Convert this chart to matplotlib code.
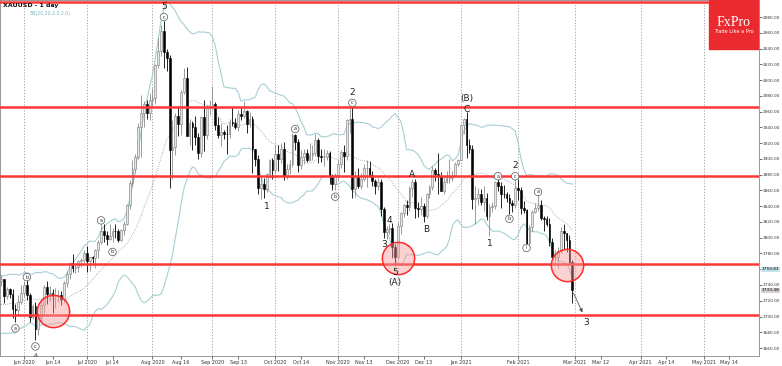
import numpy as np
import pandas as pd
import matplotlib
matplotlib.use("Agg")
import matplotlib.pyplot as plt
from matplotlib.patches import Rectangle

# --- daily XAUUSD candles, 20 May 2020 .. 26 Feb 2021 ---
pre_closes = [1714, 1730, 1729, 1713, 1706, 1713, 1686, 1700, 1702, 1705,
              1686, 1725, 1702, 1697, 1701, 1715, 1731, 1743, 1732, 1745]

opens = [
    1745, 1747, 1726, 1735, 1729, 1710, 1708, 1719,
    1730, 1740, 1727, 1700, 1713, 1684, 1698, 1715, 1737, 1728, 1730, 1726, 1727, 1727, 1722, 1743, 1754, 1768, 1761, 1763, 1771, 1772,
    1781, 1770, 1775, 1774, 1784, 1795, 1809, 1803, 1798, 1802, 1809, 1808, 1797, 1810, 1818, 1842, 1870, 1887, 1902, 1941, 1958, 1970, 1958,
    1975, 1977, 2019, 2037, 2062, 2035, 2028, 1911, 1915, 1954, 1944, 1985, 2002, 1929, 1946, 1940, 1928, 1907, 1953, 1930, 1964,
    1967, 1970, 1943, 1930, 1934, 1932, 1931, 1947, 1946, 1941, 1957, 1955, 1961, 1944, 1950, 1912, 1900, 1863, 1868, 1862, 1881, 1898,
    1886, 1906, 1900, 1913, 1878, 1887, 1893, 1930, 1922, 1892, 1902, 1908, 1899, 1905, 1907, 1924, 1904, 1902, 1902, 1908, 1878, 1868,
    1879, 1894, 1909, 1904, 1949, 1951, 1862, 1877, 1866, 1874, 1888, 1888, 1879, 1872, 1866, 1871, 1837, 1807, 1811, 1812, 1788,
    1776, 1815, 1831, 1841, 1839, 1863, 1871, 1838, 1836, 1840, 1827, 1855, 1864, 1886, 1881, 1878, 1859, 1871, 1876, 1876, 1878, 1894,
    1898, 1943, 1950, 1918, 1913, 1849, 1850, 1856, 1845, 1851, 1828, 1839, 1840, 1871, 1866, 1856, 1855, 1850, 1844, 1842,
    1863, 1860, 1838, 1835, 1793, 1813, 1833, 1838, 1842, 1825, 1824, 1818, 1795, 1775, 1775, 1783, 1808, 1806, 1797, 1769,
]
highs = [
    1753, 1748, 1737, 1736, 1735, 1716, 1727, 1740,
    1745, 1746, 1730, 1716, 1718, 1699, 1722, 1740, 1745, 1739, 1735, 1736, 1734, 1732, 1745, 1758, 1769, 1779, 1768, 1772, 1774, 1785,
    1789, 1776, 1777, 1786, 1797, 1818, 1818, 1808, 1818, 1812, 1817, 1811, 1811, 1821, 1843, 1873, 1898, 1906, 1945, 1981, 1973, 1975, 1984,
    1990, 2020, 2055, 2070, 2075, 2040, 2032, 1949, 1958, 1967, 1988, 2015, 2016, 1950, 1948, 1955, 1933, 1955, 1975, 1969, 1975,
    1992, 1972, 1953, 1945, 1937, 1943, 1951, 1966, 1952, 1962, 1966, 1973, 1962, 1960, 1955, 1913, 1905, 1880, 1876, 1882, 1900, 1901,
    1917, 1918, 1920, 1921, 1894, 1898, 1933, 1932, 1925, 1911, 1913, 1912, 1920, 1917, 1931, 1926, 1913, 1912, 1911, 1910, 1881, 1882,
    1898, 1911, 1917, 1951, 1966, 1966, 1884, 1889, 1882, 1893, 1899, 1897, 1884, 1874, 1876, 1875, 1839, 1815, 1817, 1819, 1792,
    1820, 1832, 1843, 1848, 1865, 1875, 1875, 1845, 1852, 1844, 1857, 1867, 1891, 1889, 1907, 1883, 1878, 1884, 1900, 1885, 1896, 1900,
    1944, 1952, 1959, 1925, 1917, 1865, 1863, 1862, 1865, 1857, 1843, 1845, 1872, 1875, 1871, 1867, 1858, 1856, 1848, 1875,
    1875, 1864, 1846, 1837, 1816, 1835, 1844, 1855, 1848, 1828, 1828, 1825, 1799, 1785, 1788, 1813, 1817, 1806, 1804, 1772,
]
lows = [
    1739, 1717, 1722, 1724, 1698, 1693, 1703, 1716,
    1725, 1721, 1693, 1697, 1670, 1676, 1693, 1704, 1716, 1720, 1705, 1711, 1719, 1714, 1719, 1737, 1748, 1757, 1755, 1757, 1763, 1768,
    1757, 1758, 1768, 1762, 1774, 1792, 1795, 1791, 1797, 1795, 1800, 1795, 1796, 1803, 1816, 1836, 1866, 1882, 1900, 1903, 1940, 1950, 1949,
    1966, 1970, 2015, 2031, 2015, 2012, 1863, 1874, 1905, 1929, 1930, 1982, 1929, 1917, 1911, 1917, 1900, 1902, 1910, 1925, 1956,
    1963, 1937, 1926, 1916, 1925, 1906, 1926, 1942, 1938, 1935, 1949, 1952, 1933, 1941, 1882, 1891, 1855, 1849, 1851, 1858, 1876, 1874,
    1882, 1884, 1895, 1873, 1874, 1881, 1890, 1911, 1883, 1887, 1893, 1896, 1897, 1899, 1904, 1895, 1896, 1891, 1899, 1868, 1860, 1860,
    1872, 1888, 1883, 1898, 1933, 1850, 1852, 1863, 1862, 1872, 1864, 1877, 1866, 1856, 1861, 1828, 1800, 1798, 1805, 1774, 1764,
    1774, 1805, 1826, 1829, 1834, 1852, 1825, 1826, 1829, 1820, 1825, 1851, 1860, 1872, 1856, 1859, 1855, 1869, 1870, 1872, 1877, 1891,
    1898, 1931, 1901, 1907, 1836, 1817, 1842, 1841, 1834, 1822, 1802, 1833, 1837, 1859, 1838, 1850, 1845, 1830, 1832, 1838,
    1848, 1830, 1831, 1785, 1791, 1807, 1831, 1834, 1822, 1808, 1815, 1789, 1774, 1768, 1761, 1780, 1786, 1782, 1767, 1717,
]
closes = [
    1747, 1726, 1735, 1729, 1710, 1708, 1719, 1730,
    1740, 1727, 1700, 1713, 1684, 1698, 1715, 1737, 1728, 1730, 1726, 1727, 1727, 1722, 1743, 1754, 1768, 1761, 1763, 1771, 1772, 1781,
    1770, 1775, 1774, 1784, 1795, 1809, 1803, 1798, 1802, 1809, 1808, 1797, 1810, 1818, 1842, 1870, 1887, 1902, 1941, 1958, 1970, 1958, 1975,
    1977, 2019, 2037, 2062, 2035, 2028, 1911, 1915, 1954, 1944, 1985, 2002, 1929, 1946, 1940, 1928, 1907, 1953, 1930, 1964, 1967,
    1970, 1943, 1930, 1934, 1932, 1931, 1947, 1946, 1941, 1957, 1955, 1961, 1944, 1950, 1912, 1900, 1863, 1868, 1862, 1881, 1898, 1886,
    1906, 1900, 1913, 1878, 1887, 1893, 1930, 1922, 1892, 1902, 1908, 1899, 1905, 1907, 1924, 1904, 1902, 1902, 1908, 1878, 1868, 1879,
    1894, 1909, 1904, 1949, 1951, 1862, 1877, 1866, 1874, 1888, 1888, 1879, 1872, 1866, 1871, 1837, 1807, 1811, 1812, 1788, 1776,
    1815, 1831, 1841, 1839, 1863, 1871, 1838, 1836, 1840, 1827, 1855, 1864, 1886, 1881, 1878, 1859, 1871, 1876, 1876, 1878, 1894, 1898,
    1943, 1950, 1918, 1913, 1849, 1850, 1856, 1845, 1851, 1828, 1839, 1840, 1871, 1866, 1856, 1855, 1850, 1844, 1842, 1863,
    1860, 1838, 1835, 1793, 1813, 1833, 1838, 1842, 1825, 1824, 1818, 1795, 1775, 1775, 1783, 1808, 1806, 1797, 1769, 1734,
]

# horizontal support / resistance levels
levels = [2099, 1966, 1878, 1766, 1702]
# highlighted zones (date, price)
circle_dates = ["2020-06-15", "2020-12-01", "2021-02-24"]
circle_prices = [1707, 1774, 1765]

# wave labels: text, date, price, circled?
wave_labels = [
    ("5", "2020-08-07", 2093, False), ("c", "2020-08-07", 2080, True),
    ("a", "2020-05-27", 1685, True), ("b", "2020-06-02", 1750, True),
    ("c", "2020-06-05", 1662, True),
    ("a", "2020-07-08", 1822, True), ("b", "2020-07-14", 1782, True),
    ("1", "2020-09-28", 1840, False), ("a", "2020-10-12", 1938, True),
    ("b", "2020-10-30", 1852, True),
    ("2", "2020-11-09", 1984, False), ("c", "2020-11-09", 1971, True),
    ("3", "2020-11-24", 1792, False), ("4", "2020-11-26", 1822, False),
    ("5", "2020-11-30", 1756, False), ("(A)", "2020-11-30", 1743, False),
    ("A", "2020-12-08", 1880, False), ("B", "2020-12-15", 1810, False),
    ("(B)", "2021-01-06", 1976, False), ("C", "2021-01-06", 1963, False),
    ("1", "2021-01-18", 1793, False), ("a", "2021-01-21", 1878, True),
    ("b", "2021-01-27", 1824, True),
    ("2", "2021-01-29", 1891, False), ("c", "2021-01-29", 1878, True),
    ("i", "2021-02-04", 1787, True), ("a", "2021-02-10", 1858, True),
    ("3", "2021-03-05", 1693, False),
]

month_ticks = ["2020-06-01", "2020-07-01", "2020-08-03", "2020-09-01", "2020-10-01",
               "2020-11-02", "2020-12-01", "2021-01-04", "2021-02-01", "2021-03-01",
               "2021-04-01", "2021-05-03"]
month_labels = ["Jun 2020", "Jul 2020", "Aug 2020", "Sep 2020", "Oct 2020", "Nov 2020",
                "Dec 2020", "Jan 2021", "Feb 2021", "Mar 2021", "Apr 2021", "May 2021"]
mid_ticks = ["2020-06-14", "2020-07-14", "2020-08-16", "2020-09-13", "2020-10-14",
             "2020-11-13", "2020-12-13", "2021-03-12", "2021-04-14", "2021-05-14"]
mid_labels = ["Jun 14", "Jul 14", "Aug 16", "Sep 13", "Oct 14", "Nov 13", "Dec 13",
              "Mar 12", "Apr 14", "May 14"]

# trading days (no bars on 25 Dec and 1 Jan), future weekdays after the last bar
days = pd.bdate_range("2020-05-20", "2021-02-26")
days = days.drop(pd.to_datetime(["2020-12-25", "2021-01-01"]))
future = pd.bdate_range("2021-03-01", "2021-06-30")
all_days = days.append(future)


def xpos(d):
    return all_days.searchsorted(pd.Timestamp(d))


n = len(closes)
x = np.arange(n)
o = np.array(opens, float)
h = np.array(highs, float)
l = np.array(lows, float)
c = np.array(closes, float)

# Bollinger bands 20 / 2.0
s = pd.Series(pre_closes + closes, dtype=float)
mid = s.rolling(20).mean().values[-n:]
sd = s.rolling(20).std(ddof=0).values[-n:]
upper = mid + 2 * sd
lower = mid - 2 * sd

fig = plt.figure(figsize=(7.82, 3.66), dpi=100)
ax = fig.add_axes([0, 10 / 366, 759 / 782, 356 / 366])

# month grid
for d in month_ticks:
    ax.axvline(xpos(d), color="#9a9a9a", lw=0.6, ls=(0, (1.5, 2)), zorder=0)

# bands
ax.plot(x, upper, color="#a6cfd5", lw=0.8, zorder=1)
ax.plot(x, lower, color="#a6cfd5", lw=0.8, zorder=1)
ax.plot(x, mid, color="#9a9a9a", lw=0.6, ls=(0, (1, 1.5)), zorder=1)

# candles
bull = c >= o
wick_col = np.where(bull, "#8a8a8a", "#000000")
ax.vlines(x, l, h, colors=wick_col, lw=0.6, zorder=2)
body_h = np.maximum(np.abs(c - o), 0.8)
ax.bar(x[bull], body_h[bull], bottom=np.minimum(o, c)[bull], width=0.62,
       color="#e6e6e6", edgecolor="#7a7a7a", linewidth=0.4, zorder=3)
ax.bar(x[~bull], body_h[~bull], bottom=np.minimum(o, c)[~bull], width=0.62,
       color="#000000", edgecolor="#000000", linewidth=0.4, zorder=3)

# levels
for lv in levels:
    ax.axhline(lv, color="#ff3636", lw=1.8, zorder=4)

# zones
ax.scatter([xpos(d) for d in circle_dates], circle_prices, s=540,
           facecolor=(0.97, 0.6, 0.6, 0.45), edgecolor="#ff2a2a", linewidth=1.1, zorder=5)

# projection arrow to wave 3
ax.annotate("", xy=(xpos("2021-03-04"), 1702), xytext=(xpos("2021-02-26"), 1733),
            arrowprops=dict(arrowstyle="-|>", color="#555555", lw=0.6, mutation_scale=5),
            zorder=6)

# wave labels
for txt, d, p, circ in wave_labels:
    if circ:
        ax.text(xpos(d), p, txt, fontsize=3.6, ha="center", va="center", color="#333333",
                bbox=dict(boxstyle="circle,pad=0.25", fc="white", ec="#555555", lw=0.5), zorder=7)
    else:
        ax.text(xpos(d), p, txt, fontsize=6.5, ha="center", va="center", color="#222222", zorder=7)
ax.text(xpos("2020-06-05"), 1651, "A", fontsize=4, style="italic", ha="center", va="center",
        color="#222222", clip_on=False, zorder=7)

# axes
ax.set_xlim(-0.4, 265.4)
ax.set_ylim(1649.9, 2101.6)
ax.yaxis.tick_right()
yt = np.arange(1660, 2081, 20)
ax.set_yticks(yt)
ax.set_yticklabels([f"{v:.2f}" for v in yt])
xt = [xpos(d) for d in month_ticks + mid_ticks]
ax.set_xticks(xt)
ax.set_xticklabels(month_labels + mid_labels)
ax.tick_params(axis="x", labelsize=3.5, length=2, width=0.5, colors="#333333", pad=1)
ax.tick_params(axis="y", labelsize=3.1, length=2, width=0.5, colors="#333333", pad=0.6)
for sp in ax.spines.values():
    sp.set_color("#888888")
    sp.set_linewidth(0.6)

tr = ax.get_yaxis_transform()
ax.text(1.0035, 1759.83, "1759.83", transform=tr, fontsize=3.1, va="center", ha="left",
        bbox=dict(boxstyle="square,pad=0.12", fc="#c4e2ea", ec="none"), clip_on=False)
ax.text(1.0035, 1733.48, "1733.48", transform=tr, fontsize=3.1, va="center", ha="left",
        bbox=dict(boxstyle="square,pad=0.12", fc="#d8d0d0", ec="none"), clip_on=False)

# header
fig.text(3 / 782, 1 - 5 / 366, "XAUUSD - 1 day", fontsize=4.5, fontweight="bold",
         va="center", ha="left", color="#111111")
fig.text(29 / 782, 1 - 13 / 366, "BB(20,20,2.0,2.0)", fontsize=3.3, va="center", ha="left",
         color="#7fb5bf")

# logo
fig.patches.append(Rectangle((709 / 782, 1 - 49 / 366), 49 / 782, 49 / 366,
                             transform=fig.transFigure, color="#ea2a2f", zorder=10))
fig.text(733.5 / 782, 1 - 22 / 366, "FxPro", fontsize=10, family="Liberation Serif",
         color="white", ha="center", va="center", zorder=11)
fig.text(733.5 / 782, 1 - 31.5 / 366, "Trade Like a Pro", fontsize=3.6, color="white",
         ha="center", va="center", zorder=11)

fig.savefig("out.png", dpi=100)
